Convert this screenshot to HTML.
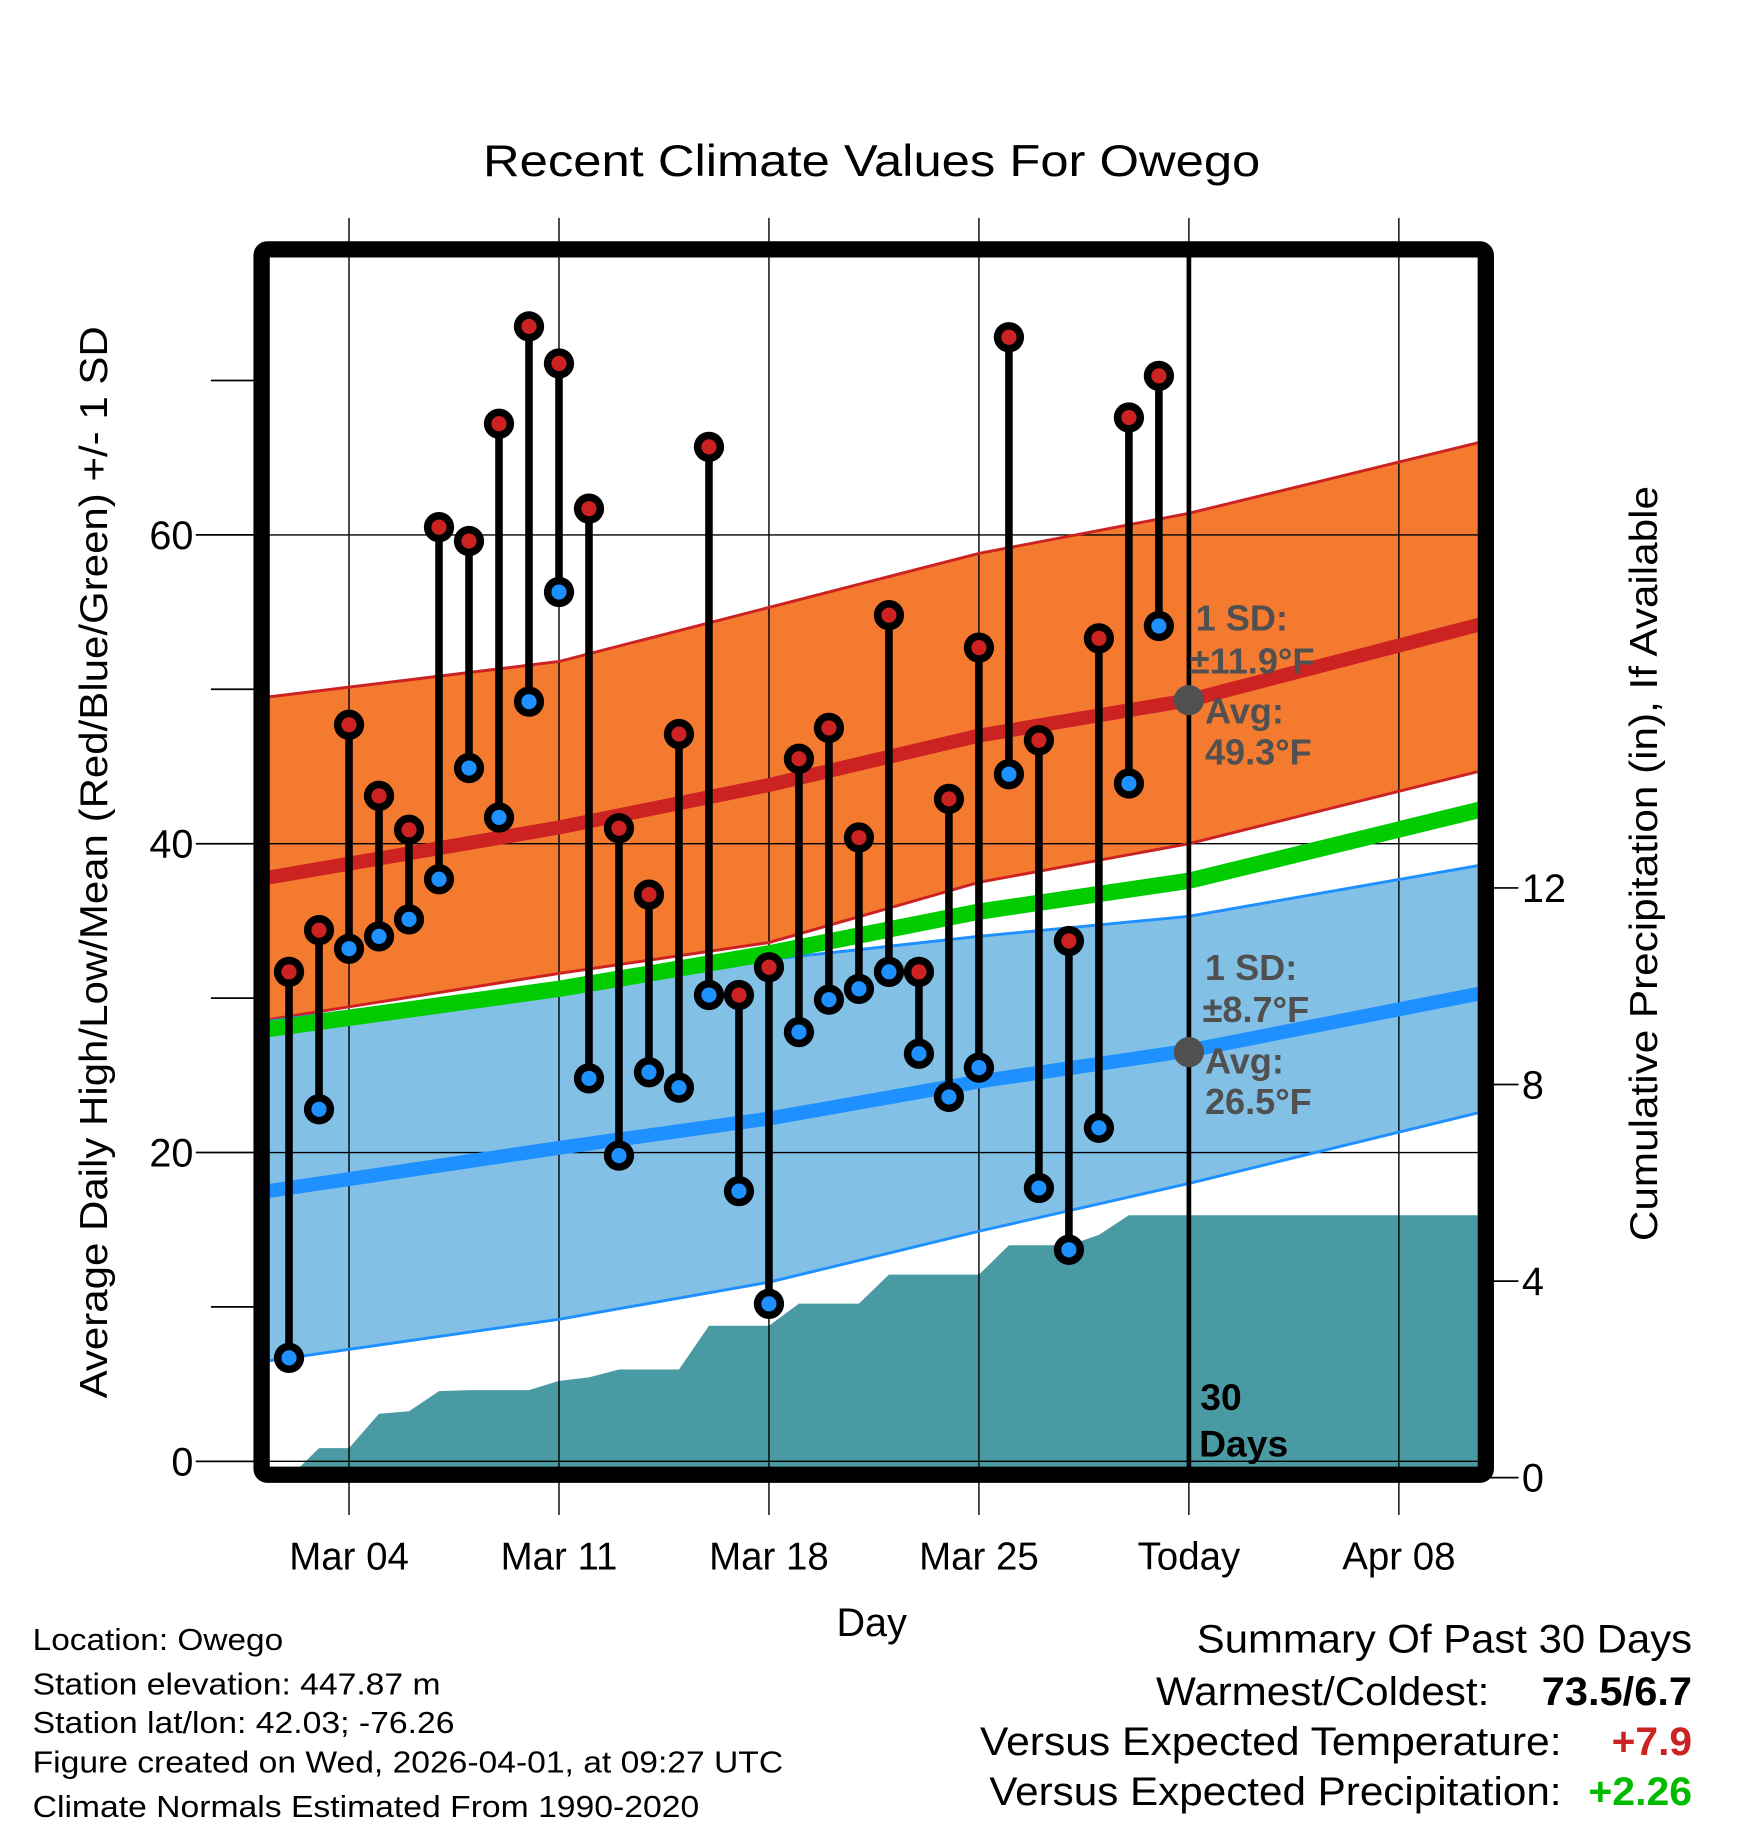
<!DOCTYPE html>
<html><head><meta charset="utf-8"><style>
html,body{margin:0;padding:0;background:#fff;}
svg{display:block;font-family:"Liberation Sans",Arial,sans-serif;}
</style></head><body>
<svg id="chart" width="1748" height="1828" viewBox="0 0 1500 1568.65" xmlns="http://www.w3.org/2000/svg">
<defs><clipPath id="plotclip"><rect x="231" y="221" width="1037" height="1038"/></clipPath></defs>
<g id="plot" clip-path="url(#plotclip)"></g>
<g id="over"></g>
<text x="748" y="151" font-size="38" text-anchor="middle" textLength="667" lengthAdjust="spacingAndGlyphs">Recent Climate Values For Owego</text>
<text transform="translate(92,740) rotate(-90)" font-size="33" text-anchor="middle" textLength="920" lengthAdjust="spacingAndGlyphs">Average Daily High/Low/Mean (Red/Blue/Green) +/- 1 SD</text>
<text transform="translate(1422,741) rotate(-90)" font-size="33" text-anchor="middle" textLength="648" lengthAdjust="spacingAndGlyphs">Cumulative Precipitation (in), If Available</text>
<text x="748" y="1404" font-size="34" text-anchor="middle">Day</text>
<g font-size="26">
<text x="28" y="1416" textLength="215" lengthAdjust="spacingAndGlyphs">Location: Owego</text>
<text x="28" y="1454" textLength="350" lengthAdjust="spacingAndGlyphs">Station elevation: 447.87 m</text>
<text x="28" y="1487" textLength="362" lengthAdjust="spacingAndGlyphs">Station lat/lon: 42.03; -76.26</text>
<text x="28" y="1521" textLength="644" lengthAdjust="spacingAndGlyphs">Figure created on Wed, 2026-04-01, at 09:27 UTC</text>
<text x="28" y="1559" textLength="572" lengthAdjust="spacingAndGlyphs">Climate Normals Estimated From 1990-2020</text>
</g>
<g font-size="34">
<text x="1452" y="1418" text-anchor="end" textLength="425" lengthAdjust="spacingAndGlyphs">Summary Of Past 30 Days</text>
<text x="1278" y="1463" text-anchor="end" textLength="286" lengthAdjust="spacingAndGlyphs">Warmest/Coldest:</text>
<text x="1452" y="1463" text-anchor="end" font-weight="bold" textLength="129" lengthAdjust="spacingAndGlyphs">73.5/6.7</text>
<text x="1340" y="1506" text-anchor="end" textLength="499" lengthAdjust="spacingAndGlyphs">Versus Expected Temperature:</text>
<text x="1452" y="1506" text-anchor="end" font-weight="bold" fill="#cc2222" textLength="69" lengthAdjust="spacingAndGlyphs">+7.9</text>
<text x="1340" y="1549" text-anchor="end" textLength="491" lengthAdjust="spacingAndGlyphs">Versus Expected Precipitation:</text>
<text x="1452" y="1549" text-anchor="end" font-weight="bold" fill="#00bb00" textLength="89" lengthAdjust="spacingAndGlyphs">+2.26</text>
</g>
<script>
// ---- data ----
const obsDays = [2,3,4,5,6,7,8,9,10,11,12,13,14,15,16,17,18,19,20,21,22,23,24,25,26,27,28,29,30,31];
const highs = [31.7,34.4,47.7,43.1,40.9,60.5,59.6,67.2,73.5,71.1,61.7,41.0,36.7,47.1,65.7,30.2,32.0,45.5,47.5,40.4,54.8,31.7,42.9,52.7,72.8,46.7,33.7,53.3,67.6,70.3];
const lows = [6.7,22.8,33.2,34.0,35.1,37.7,44.9,41.7,49.2,56.3,24.8,19.8,25.2,24.2,30.2,17.5,10.2,27.8,29.9,30.6,31.7,26.4,23.6,25.5,44.5,17.7,13.7,21.6,43.9,54.1];
const precip = [0,0.6,0.6,1.3,1.35,1.76,1.78,1.78,1.78,1.97,2.04,2.2,2.2,2.2,3.09,3.09,3.09,3.54,3.54,3.54,4.13,4.13,4.13,4.13,4.73,4.73,4.73,4.94,5.34,5.34];
const normDays = [1.3,11,18,25,32,41.7];
const hiUpper = [49.5,51.8,55.3,58.8,61.4,66.0];
const hiMean = [37.8,41.05,43.8,47.0,49.3,54.2];
const hiLower = [28.6,31.6,33.6,37.5,40.0,44.7];
const avgMean = [28.0,30.6,32.9,35.6,37.6,42.2];
const loUpper = [28.5,30.9,32.5,34.0,35.3,38.6];
const loMean = [17.5,20.3,22.2,24.6,26.6,30.3];
const loLower = [6.5,9.2,11.6,14.9,18.0,22.6];
const xTickDays = [4,11,18,25,32,39];
const xTickLabels = ["Mar 04","Mar 11","Mar 18","Mar 25","Today","Apr 08"];
const yTicks = [0,20,40,60];
const yMinor = [10,30,50,70];
const y2Ticks = [0,4,8,12];
const todayDay = 32;
const todayHiAvg = 49.3, todayLoAvg = 26.5;

// ---- axes ----
const xs = d => 299.5 + (d-4)*25.74;
const ys = t => 1254 - t*13.25;
const yp = p => 1268 - p*42.17;
const NS = "http://www.w3.org/2000/svg";
const plot = document.getElementById('plot');
const over = document.getElementById('over');
function mk(parent, tag, attrs){const e=document.createElementNS(NS,tag);for(const k in attrs)e.setAttribute(k,attrs[k]);parent.appendChild(e);return e;}
function band(up, lo){let p=normDays.map((d,i)=>xs(d)+','+ys(up[i]));for(let i=normDays.length-1;i>=0;i--)p.push(xs(normDays[i])+','+ys(lo[i]));return p.join(' ');}
function line(v){return normDays.map((d,i)=>xs(d)+','+ys(v[i])).join(' ');}

let e;
e = mk(plot,'polygon',{points:band(hiUpper,hiLower),fill:'#f47a30'});


e = mk(plot,'polygon',{points:band(loUpper,loLower),fill:'#82c0e6'});


let pp = [xs(obsDays[0])+',1262'];
obsDays.forEach((d,i)=>pp.push(xs(d)+','+yp(precip[i])));
pp.push('1275,'+yp(precip[precip.length-1]));pp.push('1275,1262');
e = mk(plot,'polygon',{points:pp.join(' '),fill:'#4a9aa3'});


yTicks.forEach(t=>{mk(plot,'line',{x1:225,x2:1275,y1:ys(t),y2:ys(t),stroke:'#000','stroke-width':1.2});});
xTickDays.forEach(d=>{mk(plot,'line',{x1:xs(d),x2:xs(d),y1:210,y2:1265,stroke:'#000','stroke-width':1.2});});
[[hiUpper,'#cc2222',2.5],[hiLower,'#cc2222',2.5],[loUpper,'#1e90ff',2.5],[loLower,'#1e90ff',2.5]].forEach(a=>{mk(plot,'polyline',{points:line(a[0]),fill:'none',stroke:a[1],'stroke-width':a[2]});});
e = mk(plot,'polyline',{points:line(avgMean),fill:'none',stroke:'#00cc00','stroke-width':14});


e = mk(plot,'polyline',{points:line(hiMean),fill:'none',stroke:'#cc2222','stroke-width':12});


e = mk(plot,'polyline',{points:line(loMean),fill:'none',stroke:'#1e90ff','stroke-width':12});


mk(plot,'line',{x1:xs(todayDay),x2:xs(todayDay),y1:215,y2:1265,stroke:'#000','stroke-width':4});
obsDays.forEach((d,i)=>{
  const g = mk(plot,'g',{});
  
  
  mk(g,'line',{x1:xs(d),x2:xs(d),y1:ys(highs[i]),y2:ys(lows[i]),stroke:'#000','stroke-width':6.5});
  mk(g,'circle',{cx:xs(d),cy:ys(highs[i]),r:13,fill:'#000'});
  mk(g,'circle',{cx:xs(d),cy:ys(highs[i]),r:6.5,fill:'#cc2222'});
  mk(g,'circle',{cx:xs(d),cy:ys(lows[i]),r:13,fill:'#000'});
  mk(g,'circle',{cx:xs(d),cy:ys(lows[i]),r:6.5,fill:'#1e90ff'});
});
mk(plot,'circle',{cx:xs(todayDay),cy:ys(todayHiAvg),r:13,fill:'#505050'});
mk(plot,'circle',{cx:xs(todayDay),cy:ys(todayLoAvg),r:13,fill:'#505050'});
function txt(parent,x,y,s,attrs){const t=mk(parent,'text',Object.assign({x:x,y:y},attrs||{}));t.textContent=s;return t;}
const ann = mk(over,'g',{fill:'#505050','font-weight':'bold','font-size':'31'});


txt(ann,1026,541,'1 SD:');
txt(ann,1021,578,'±11.9°F');
txt(ann,1034,621,'Avg:');
txt(ann,1034,656,'49.3°F');
txt(ann,1034,841,'1 SD:');
txt(ann,1032,877,'±8.7°F');
txt(ann,1034,921,'Avg:');
txt(ann,1034,956,'26.5°F');
const dl = mk(over,'g',{fill:'#000','font-weight':'bold','font-size':'32'});


txt(dl,1030,1210,'30');
txt(dl,1029,1250,'Days');
xTickDays.forEach((d,i)=>{
  mk(over,'line',{x1:xs(d),x2:xs(d),y1:187,y2:212,stroke:'#000','stroke-width':1.2});
  mk(over,'line',{x1:xs(d),x2:xs(d),y1:1268,y2:1300,stroke:'#000','stroke-width':1.2});
  const t = txt(over,xs(d),1347,xTickLabels[i],{'font-size':'33','text-anchor':'middle'});
  
  
});
yTicks.forEach(t=>{
  mk(over,'line',{x1:168,x2:220,y1:ys(t),y2:ys(t),stroke:'#000','stroke-width':1.5});
  const l = txt(over,166,ys(t)+12,String(t),{'font-size':'34','text-anchor':'end'});
  
  
});
yMinor.forEach(t=>{mk(over,'line',{x1:181,x2:220,y1:ys(t),y2:ys(t),stroke:'#000','stroke-width':1.5});});
y2Ticks.forEach(p=>{
  mk(over,'line',{x1:1278,x2:1303,y1:yp(p),y2:yp(p),stroke:'#000','stroke-width':1.5});
  const l = txt(over,1306,yp(p)+12,String(p),{'font-size':'34'});
  
  
});
e = mk(over,'rect',{x:224.5,y:214,width:1050.5,height:1051.5,rx:5,fill:'none',stroke:'#000','stroke-width':14});


</script>
</svg>
</body></html>
